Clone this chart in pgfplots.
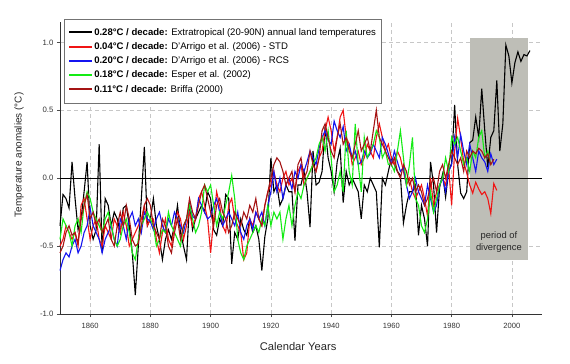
\documentclass[border=0pt]{standalone}
\usepackage{pgfplots}
\pgfplotsset{compat=1.18}
\usepackage{fontspec}
\setmainfont{Liberation Sans}
\definecolor{dred}{RGB}{165,20,20}
\definecolor{myred}{RGB}{240,20,20}
\definecolor{myblue}{RGB}{20,20,240}
\definecolor{mygreen}{RGB}{20,235,20}
\definecolor{boxgray}{RGB}{190,190,183}
\begin{document}
\begin{tikzpicture}
\begin{axis}[
  name=ax,
  scale only axis, width=482bp, height=292bp,
  xmin=1850, xmax=2010, ymin=-1, ymax=1.15,
  axis lines*=left,
  axis line style={black!80, line width=0.7bp},
  tick align=outside, major tick length=3bp,
  tick style={black!70, line width=0.6bp},
  xtick={1860,1880,...,2000},
  ytick={-1,-0.5,0,0.5,1},
  /pgf/number format/assume math mode=true,
  xticklabel style={/pgf/number format/1000 sep={}, font=\fontsize{7.6}{9}\selectfont, text=black!80, yshift=-2.5bp},
  yticklabel style={/pgf/number format/fixed, /pgf/number format/fixed zerofill, /pgf/number format/precision=1, font=\fontsize{7.8}{9}\selectfont, text=black!80},
  grid=major,
  major grid style={black!22, line width=0.5bp, dash pattern=on 4bp off 3bp},
  xlabel={Calendar Years},
  ylabel={Temperature anomalies (°C)},
  xlabel style={at={(axis description cs:0.494,-0.11)}, anchor=center, font=\fontsize{11.2}{13}\selectfont, text=black!85},
  ylabel style={at={(axis description cs:-0.085,0.545)}, anchor=center, font=\fontsize{10}{12}\selectfont, text=black!85},
  legend style={at={(axis description cs:0.008,1.0105)}, anchor=north west, draw=black!55, line width=0.8bp, fill=white,
    font=\fontsize{9.6}{11}\selectfont, inner xsep=4bp, inner ysep=8bp, row sep=3.2bp,
    nodes={inner sep=1bp, text height=7bp, text depth=2bp}},
  legend cell align=left,
  legend image code/.code={\draw[#1, line width=2bp] (0bp,0.5bp) -- (23bp,0.5bp);},
  clip=false,
]
% shaded period of divergence
\addplot[fill=boxgray, draw=none, forget plot] coordinates {(1986,-0.6) (2005.3,-0.6) (2005.3,1.03) (1986,1.03)} -- cycle;
\node[align=center, font=\fontsize{9.4}{11.5}\selectfont, text=black!85] at (axis cs:1995.7,-0.47) {period of\\divergence};
% zero line
\addplot[black, line width=0.7bp, forget plot] coordinates {(1850,0) (2010,0)};

% Extratropical land temperatures - black
\addplot[black, line width=1.1bp] coordinates {
(1850,-0.35)(1851,-0.12)(1852,-0.15)(1853,-0.22)(1854,0.12)(1855,-0.15)(1856,-0.38)(1857,-0.3)(1858,-0.1)(1859,0.12)
(1860,-0.35)(1861,-0.45)(1862,-0.38)(1863,0.25)(1864,-0.55)(1865,-0.15)(1866,-0.2)(1867,-0.35)(1868,-0.25)(1869,-0.3)
(1870,-0.4)(1871,-0.22)(1872,-0.2)(1873,-0.35)(1874,-0.55)(1875,-0.86)(1876,-0.5)(1877,-0.15)(1878,0.23)(1879,-0.35)
(1880,-0.3)(1881,-0.15)(1882,-0.35)(1883,-0.45)(1884,-0.6)(1885,-0.45)(1886,-0.38)(1887,-0.45)(1888,-0.35)(1889,-0.2)
(1890,-0.4)(1891,-0.5)(1892,-0.6)(1893,-0.18)(1894,-0.38)(1895,-0.3)(1896,-0.25)(1897,-0.2)(1898,-0.25)(1899,-0.1)
(1900,-0.15)(1901,-0.38)(1902,-0.42)(1903,-0.3)(1904,-0.35)(1905,-0.12)(1906,-0.15)(1907,-0.63)(1908,-0.4)(1909,-0.45)
(1910,-0.3)(1911,-0.38)(1912,-0.42)(1913,-0.3)(1914,-0.4)(1915,-0.35)(1916,-0.45)(1917,-0.68)(1918,-0.43)(1919,-0.3)
(1920,0.15)(1921,-0.1)(1922,-0.05)(1923,-0.2)(1924,-0.15)(1925,-0.05)(1926,-0.1)(1927,-0.1)(1928,-0.46)(1929,-0.05)
(1930,-0.05)(1931,0.05)(1932,-0.1)(1933,-0.36)(1934,0.2)(1935,-0.05)(1936,-0.03)(1937,0.05)(1938,0.38)(1939,0.15)
(1940,0.05)(1941,-0.1)(1942,0.12)(1943,0.22)(1944,-0.18)(1945,0.05)(1946,-0.05)(1947,0.0)(1948,-0.05)(1949,-0.1)
(1950,-0.3)(1951,-0.05)(1952,-0.1)(1953,0.0)(1954,-0.05)(1955,-0.1)(1956,-0.51)(1957,0.0)(1958,-0.05)(1959,0.05)
(1960,0.15)(1961,0.1)(1962,0.05)(1963,0.02)(1964,-0.33)(1965,-0.2)(1966,-0.1)(1967,-0.1)(1968,-0.05)(1969,-0.42)
(1970,-0.2)(1971,-0.3)(1972,-0.5)(1973,0.12)(1974,-0.05)(1975,-0.4)(1976,-0.07)(1977,0.03)(1978,-0.14)(1979,0.05)
(1980,0.11)(1981,0.54)(1982,0.1)(1983,-0.11)(1984,-0.15)(1985,-0.1)(1986,0.26)(1987,0.28)(1988,0.45)(1989,0.3)
(1990,0.66)(1991,0.35)(1992,0.08)(1993,0.3)(1994,0.35)(1995,0.72)(1996,0.2)(1997,0.4)(1998,0.98)(1999,0.9)
(2000,0.7)(2001,0.85)(2002,0.93)(2003,0.86)(2004,0.91)(2005,0.9)(2006,0.94)};
\addlegendentry{\textbf{0.28°C / decade:} Extratropical (20-90N) annual land temperatures}

% D'Arrigo STD - red
\addplot[myred, line width=1.1bp] coordinates {
(1850,-0.5)(1851,-0.45)(1852,-0.35)(1853,-0.4)(1854,-0.45)(1855,-0.4)(1856,-0.5)(1857,-0.2)(1858,-0.15)(1859,-0.3)
(1860,-0.45)(1861,-0.35)(1862,-0.3)(1863,-0.45)(1864,-0.5)(1865,-0.35)(1866,-0.4)(1867,-0.45)(1868,-0.3)(1869,-0.35)
(1870,-0.4)(1871,-0.25)(1872,-0.35)(1873,-0.5)(1874,-0.45)(1875,-0.4)(1876,-0.35)(1877,-0.3)(1878,-0.2)(1879,-0.35)
(1880,-0.3)(1881,-0.3)(1882,-0.45)(1883,-0.55)(1884,-0.4)(1885,-0.3)(1886,-0.45)(1887,-0.5)(1888,-0.35)(1889,-0.25)
(1890,-0.3)(1891,-0.45)(1892,-0.35)(1893,-0.25)(1894,-0.35)(1895,-0.3)(1896,-0.15)(1897,-0.1)(1898,-0.2)(1899,-0.3)
(1900,-0.55)(1901,-0.3)(1902,-0.1)(1903,-0.2)(1904,-0.35)(1905,-0.4)(1906,-0.2)(1907,-0.15)(1908,-0.3)(1909,-0.35)
(1910,-0.4)(1911,-0.6)(1912,-0.55)(1913,-0.3)(1914,-0.35)(1915,-0.25)(1916,-0.3)(1917,-0.35)(1918,-0.2)(1919,-0.1)
(1920,-0.05)(1921,0.05)(1922,-0.05)(1923,-0.1)(1924,0.0)(1925,0.05)(1926,-0.05)(1927,0.0)(1928,-0.1)(1929,0.05)
(1930,0.1)(1931,-0.05)(1932,0.0)(1933,0.05)(1934,0.1)(1935,0.05)(1936,0.15)(1937,0.2)(1938,0.35)(1939,0.45)
(1940,0.35)(1941,0.2)(1942,0.3)(1943,0.45)(1944,0.5)(1945,0.3)(1946,0.25)(1947,0.1)(1948,0.15)(1949,0.2)
(1950,0.1)(1951,0.15)(1952,0.25)(1953,0.2)(1954,0.15)(1955,0.3)(1956,0.4)(1957,0.3)(1958,0.2)(1959,0.25)
(1960,0.15)(1961,0.1)(1962,0.2)(1963,0.15)(1964,0.05)(1965,-0.05)(1966,0.0)(1967,-0.1)(1968,-0.15)(1969,-0.1)
(1970,-0.05)(1971,-0.15)(1972,-0.28)(1973,0.0)(1974,-0.2)(1975,-0.1)(1976,-0.05)(1977,0.0)(1978,-0.05)(1979,0.08)
(1980,-0.2)(1981,0.2)(1982,0.44)(1983,0.3)(1984,0.12)(1985,0.04)(1986,-0.05)(1987,-0.11)(1988,-0.03)(1989,-0.08)
(1990,-0.12)(1991,-0.1)(1992,-0.15)(1993,-0.26)(1994,-0.04)(1995,-0.09)};
\addlegendentry{\textbf{0.04°C / decade:} D'Arrigo et al. (2006) - STD}

% D'Arrigo RCS - blue
\addplot[myblue, line width=1.1bp] coordinates {
(1850,-0.68)(1851,-0.6)(1852,-0.55)(1853,-0.58)(1854,-0.5)(1855,-0.45)(1856,-0.55)(1857,-0.5)(1858,-0.4)(1859,-0.35)
(1860,-0.22)(1861,-0.35)(1862,-0.4)(1863,-0.45)(1864,-0.55)(1865,-0.45)(1866,-0.4)(1867,-0.35)(1868,-0.45)(1869,-0.5)
(1870,-0.3)(1871,-0.35)(1872,-0.45)(1873,-0.3)(1874,-0.25)(1875,-0.35)(1876,-0.3)(1877,-0.4)(1878,-0.25)(1879,-0.3)
(1880,-0.32)(1881,-0.38)(1882,-0.3)(1883,-0.25)(1884,-0.35)(1885,-0.4)(1886,-0.3)(1887,-0.35)(1888,-0.25)(1889,-0.3)
(1890,-0.35)(1891,-0.4)(1892,-0.3)(1893,-0.2)(1894,-0.28)(1895,-0.3)(1896,-0.15)(1897,-0.2)(1898,-0.25)(1899,-0.3)
(1900,-0.28)(1901,-0.2)(1902,-0.15)(1903,-0.25)(1904,-0.35)(1905,-0.3)(1906,-0.25)(1907,-0.3)(1908,-0.35)(1909,-0.25)
(1910,-0.4)(1911,-0.45)(1912,-0.35)(1913,-0.3)(1914,-0.38)(1915,-0.25)(1916,-0.3)(1917,-0.25)(1918,-0.35)(1919,-0.2)
(1920,-0.1)(1921,0.05)(1922,-0.1)(1923,0.0)(1924,-0.15)(1925,-0.05)(1926,0.0)(1927,-0.08)(1928,0.05)(1929,0.0)
(1930,0.1)(1931,0.05)(1932,0.12)(1933,0.2)(1934,0.15)(1935,0.1)(1936,0.22)(1937,0.3)(1938,0.35)(1939,0.28)
(1940,0.25)(1941,0.42)(1942,0.35)(1943,0.3)(1944,0.38)(1945,0.2)(1946,0.25)(1947,0.15)(1948,0.2)(1949,0.1)
(1950,0.12)(1951,0.2)(1952,0.15)(1953,0.18)(1954,0.25)(1955,0.2)(1956,0.15)(1957,0.3)(1958,0.25)(1959,0.18)
(1960,0.1)(1961,0.2)(1962,0.12)(1963,0.05)(1964,0.08)(1965,-0.05)(1966,-0.15)(1967,-0.1)(1968,0.0)(1969,-0.1)
(1970,-0.15)(1971,-0.2)(1972,-0.05)(1973,-0.15)(1974,-0.25)(1975,-0.2)(1976,-0.05)(1977,0.0)(1978,-0.1)(1979,0.05)
(1980,0.1)(1981,0.3)(1982,0.15)(1983,0.32)(1984,0.2)(1985,0.1)(1986,0.25)(1987,0.15)(1988,0.05)(1989,0.2)
(1990,0.15)(1991,0.12)(1992,0.05)(1993,0.18)(1994,0.1)(1995,0.14)};
\addlegendentry{\textbf{0.20°C / decade:} D'Arrigo et al. (2006) - RCS}

% Esper et al. (2002) - green
\addplot[mygreen, line width=1.1bp] coordinates {
(1850,-0.45)(1851,-0.3)(1852,-0.35)(1853,-0.4)(1854,-0.5)(1855,-0.35)(1856,-0.3)(1857,-0.4)(1858,-0.2)(1859,-0.1)
(1860,-0.15)(1861,-0.25)(1862,-0.3)(1863,-0.35)(1864,-0.4)(1865,-0.3)(1866,-0.25)(1867,-0.35)(1868,-0.45)(1869,-0.5)
(1870,-0.45)(1871,-0.35)(1872,-0.3)(1873,-0.4)(1874,-0.55)(1875,-0.6)(1876,-0.45)(1877,-0.35)(1878,-0.3)(1879,-0.25)
(1880,-0.3)(1881,-0.35)(1882,-0.5)(1883,-0.45)(1884,-0.38)(1885,-0.4)(1886,-0.25)(1887,-0.35)(1888,-0.4)(1889,-0.45)
(1890,-0.5)(1891,-0.35)(1892,-0.3)(1893,-0.2)(1894,-0.3)(1895,-0.4)(1896,-0.35)(1897,-0.25)(1898,-0.05)(1899,-0.1)
(1900,-0.05)(1901,-0.2)(1902,-0.35)(1903,-0.25)(1904,-0.3)(1905,-0.2)(1906,-0.1)(1907,0.02)(1908,-0.15)(1909,-0.45)
(1910,-0.55)(1911,-0.6)(1912,-0.5)(1913,-0.45)(1914,-0.4)(1915,-0.35)(1916,-0.4)(1917,-0.3)(1918,-0.35)(1919,-0.2)
(1920,-0.35)(1921,-0.25)(1922,-0.3)(1923,-0.25)(1924,-0.45)(1925,-0.3)(1926,-0.2)(1927,-0.35)(1928,-0.2)(1929,-0.1)
(1930,-0.15)(1931,-0.05)(1932,0.0)(1933,0.05)(1934,0.1)(1935,0.15)(1936,0.25)(1937,0.3)(1938,0.2)(1939,0.35)
(1940,0.15)(1941,-0.1)(1942,-0.05)(1943,0.05)(1944,-0.1)(1945,0.35)(1946,0.05)(1947,-0.05)(1948,0.4)(1949,0.1)
(1950,-0.1)(1951,0.3)(1952,0.15)(1953,0.2)(1954,0.25)(1955,0.35)(1956,0.3)(1957,0.15)(1958,0.2)(1959,0.1)
(1960,0.1)(1961,0.05)(1962,0.2)(1963,0.35)(1964,0.15)(1965,-0.05)(1966,0.1)(1967,0.3)(1968,-0.15)(1969,-0.2)
(1970,-0.35)(1971,-0.4)(1972,-0.3)(1973,-0.1)(1974,-0.25)(1975,-0.15)(1976,-0.05)(1977,0.0)(1978,0.15)(1979,0.05)
(1980,0.3)(1981,0.25)(1982,0.3)(1983,0.2)(1984,0.1)(1985,0.15)(1986,0.05)(1987,0.2)(1988,0.15)(1989,0.3)
(1990,0.35)(1991,0.15)(1992,0.2)(1993,0.1)};
\addlegendentry{\textbf{0.18°C / decade:} Esper et al. (2002)}

% Briffa (2000) - dark red
\addplot[dred, line width=1.1bp] coordinates {
(1850,-0.55)(1851,-0.5)(1852,-0.4)(1853,-0.35)(1854,-0.42)(1855,-0.4)(1856,-0.48)(1857,-0.3)(1858,-0.2)(1859,-0.12)
(1860,-0.3)(1861,-0.25)(1862,-0.35)(1863,-0.3)(1864,-0.4)(1865,-0.35)(1866,-0.3)(1867,-0.45)(1868,-0.5)(1869,-0.35)
(1870,-0.25)(1871,-0.35)(1872,-0.2)(1873,-0.3)(1874,-0.45)(1875,-0.5)(1876,-0.48)(1877,-0.35)(1878,-0.2)(1879,-0.15)
(1880,-0.2)(1881,-0.35)(1882,-0.4)(1883,-0.45)(1884,-0.3)(1885,-0.35)(1886,-0.5)(1887,-0.55)(1888,-0.4)(1889,-0.3)
(1890,-0.45)(1891,-0.35)(1892,-0.3)(1893,-0.15)(1894,-0.25)(1895,-0.3)(1896,-0.2)(1897,-0.1)(1898,-0.05)(1899,-0.15)
(1900,-0.25)(1901,-0.35)(1902,-0.2)(1903,-0.15)(1904,-0.25)(1905,-0.3)(1906,-0.4)(1907,-0.35)(1908,-0.25)(1909,-0.3)
(1910,-0.35)(1911,-0.25)(1912,-0.3)(1913,-0.2)(1914,-0.25)(1915,-0.15)(1916,-0.3)(1917,-0.35)(1918,-0.2)(1919,-0.1)
(1920,0.0)(1921,0.1)(1922,0.15)(1923,0.12)(1924,0.05)(1925,-0.05)(1926,0.0)(1927,0.05)(1928,-0.1)(1929,0.1)
(1930,0.15)(1931,0.0)(1932,0.05)(1933,0.2)(1934,0.1)(1935,0.05)(1936,0.15)(1937,0.35)(1938,0.4)(1939,0.3)
(1940,0.2)(1941,0.15)(1942,0.3)(1943,0.4)(1944,0.25)(1945,0.3)(1946,0.2)(1947,0.15)(1948,0.25)(1949,0.35)
(1950,0.2)(1951,0.25)(1952,0.3)(1953,0.2)(1954,0.35)(1955,0.5)(1956,0.3)(1957,0.25)(1958,0.2)(1959,0.15)
(1960,0.1)(1961,0.15)(1962,0.05)(1963,0.0)(1964,0.1)(1965,0.05)(1966,-0.05)(1967,0.0)(1968,-0.1)(1969,-0.05)
(1970,-0.1)(1971,-0.2)(1972,-0.15)(1973,-0.05)(1974,0.0)(1975,-0.1)(1976,0.05)(1977,0.1)(1978,0.0)(1979,0.1)
(1980,0.2)(1981,0.15)(1982,0.1)(1983,0.15)(1984,0.05)(1985,0.2)(1986,0.15)(1987,0.2)(1988,0.18)(1989,0.22)
(1990,0.2)(1991,0.15)(1992,0.18)(1993,0.1)(1994,0.14)};
\addlegendentry{\textbf{0.11°C / decade:} Briffa (2000)}
\end{axis}
\pgfresetboundingbox
\path ([xshift=-60bp,yshift=-50bp]ax.south west) rectangle ([xshift=28bp,yshift=22bp]ax.north east);
\end{tikzpicture}
\end{document}
